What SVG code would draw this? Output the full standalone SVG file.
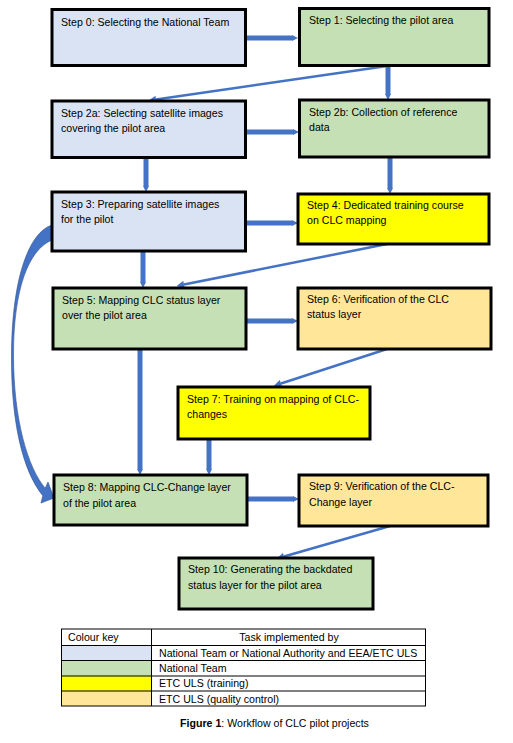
<svg xmlns="http://www.w3.org/2000/svg" width="513" height="743" viewBox="0 0 513 743">
<style>
.box{stroke:#000;stroke-width:3}
.blue{fill:#DAE3F3}.green{fill:#C5E0B4}.yellow{fill:#FFFF00}.orange{fill:#FFE699}
text{font-family:"Liberation Sans",Arial,sans-serif;font-size:10.6px;fill:#000}
.thick{stroke:#4472C4;stroke-width:5;fill:none}
.thin{stroke:#4472C4;stroke-width:2.5;fill:none}
.cell{fill:none;stroke:#000;stroke-width:1}
</style>
<defs>
<marker id="ah" viewBox="0 0 10 10" refX="0" refY="5" markerWidth="1.2" markerHeight="2" orient="auto" markerUnits="strokeWidth"><path d="M0,0 L10,5 L0,10 z" fill="#4472C4"/></marker>
<marker id="ah2" viewBox="0 0 10 10" refX="0" refY="5" markerWidth="3.6" markerHeight="3" orient="auto" markerUnits="strokeWidth"><path d="M0,0 L10,5 L0,10 z" fill="#4472C4"/></marker>
</defs>
<rect width="513" height="743" fill="#fff"/>
<g id="connectors">
<line class="thick" x1="245" y1="38" x2="292" y2="38" marker-end="url(#ah)"/>
<line class="thin" x1="387" y1="66" x2="156" y2="99.5" marker-end="url(#ah2)"/>
<line class="thick" x1="388" y1="66" x2="388" y2="94" marker-end="url(#ah)"/>
<line class="thick" x1="245" y1="132" x2="293" y2="132" marker-end="url(#ah)"/>
<line class="thick" x1="146" y1="157" x2="146" y2="186" marker-end="url(#ah)"/>
<line class="thick" x1="390" y1="157" x2="390" y2="188" marker-end="url(#ah)"/>
<line class="thick" x1="245" y1="223" x2="292" y2="223" marker-end="url(#ah)"/>
<line class="thin" x1="387" y1="244" x2="184" y2="284.5" marker-end="url(#ah2)"/>
<line class="thick" x1="143" y1="251" x2="143" y2="282" marker-end="url(#ah)"/>
<line class="thick" x1="246" y1="321" x2="292" y2="321" marker-end="url(#ah)"/>
<line class="thin" x1="387" y1="349" x2="281" y2="383.5" marker-end="url(#ah2)"/>
<line class="thick" x1="140" y1="349" x2="140" y2="469" marker-end="url(#ah)"/>
<line class="thick" x1="209" y1="439" x2="209" y2="469" marker-end="url(#ah)"/>
<line class="thick" x1="247" y1="499" x2="293" y2="499" marker-end="url(#ah)"/>
<line class="thin" x1="390" y1="526" x2="284" y2="556.5" marker-end="url(#ah2)"/>
<path d="M52,225 C30,232 12,275 11.5,355 C11,420 22,470 42.8,495.8 L41,503 L54,498 L48,482 L45.2,488.2 C28,468 13.5,420 13.5,355 C13.5,290 28,250 52,240 Z" fill="#4472C4" stroke="#2F528F" stroke-width="0.6"/>
</g>
<g id="step0"><rect class="box blue" x="52" y="9.5" width="193.5" height="56"/><text x="61" y="26">Step 0: Selecting the National Team</text></g>
<g id="step1"><rect class="box green" x="299.5" y="8.5" width="189.5" height="57"/><text x="309" y="24">Step 1: Selecting the pilot area</text></g>
<g id="step2a"><rect class="box blue" x="52" y="101" width="193.5" height="56.5"/><text x="61" y="117">Step 2a: Selecting satellite images</text><text x="61" y="132">covering the pilot area</text></g>
<g id="step2b"><rect class="box green" x="299.5" y="100" width="189.5" height="57"/><text x="309" y="116">Step 2b: Collection of reference</text><text x="309" y="131">data</text></g>
<g id="step3"><rect class="box blue" x="52" y="192" width="193.5" height="59"/><text x="61" y="208">Step 3: Preparing satellite images</text><text x="61" y="223">for the pilot</text></g>
<g id="step4"><rect class="box yellow" x="298" y="194" width="191" height="50"/><text x="307" y="209">Step 4: Dedicated training course</text><text x="307" y="224">on CLC mapping</text></g>
<g id="step5"><rect class="box green" x="53" y="288" width="193" height="61"/><text x="62" y="304">Step 5: Mapping CLC status layer</text><text x="62" y="319">over the pilot area</text></g>
<g id="step6"><rect class="box orange" x="298" y="288" width="193" height="61"/><text x="307" y="303">Step 6: Verification of the CLC</text><text x="307" y="318">status layer</text></g>
<g id="step7"><rect class="box yellow" x="178" y="387" width="192" height="52"/><text x="187" y="403">Step 7: Training on mapping of CLC-</text><text x="187" y="418">changes</text></g>
<g id="step8"><rect class="box green" x="54" y="475" width="193" height="50"/><text x="63" y="491">Step 8: Mapping CLC-Change layer</text><text x="63" y="507">of the pilot area</text></g>
<g id="step9"><rect class="box orange" x="299" y="475" width="189" height="51"/><text x="309" y="490">Step 9: Verification of the CLC-</text><text x="309" y="506">Change layer</text></g>
<g id="step10"><rect class="box green" x="179" y="558" width="194" height="51"/><text x="188" y="573">Step 10: Generating the backdated</text><text x="188" y="589">status layer for the pilot area</text></g>
<g id="legend">
<rect x="61.5" y="645.5" width="90" height="15" fill="#DAE3F3"/>
<rect x="61.5" y="660.5" width="90" height="15.5" fill="#C5E0B4"/>
<rect x="61.5" y="676" width="90" height="15" fill="#FFFF00"/>
<rect x="61.5" y="691" width="90" height="15" fill="#FFE699"/>
<rect class="cell" x="61.5" y="629" width="364" height="77"/>
<line class="cell" x1="151.5" y1="629" x2="151.5" y2="706"/>
<line class="cell" x1="61.5" y1="645.5" x2="425.5" y2="645.5"/>
<line class="cell" x1="61.5" y1="660.5" x2="425.5" y2="660.5"/>
<line class="cell" x1="61.5" y1="676" x2="425.5" y2="676"/>
<line class="cell" x1="61.5" y1="691" x2="425.5" y2="691"/>
<text x="68" y="641">Colour key</text>
<text x="289" y="641" text-anchor="middle">Task implemented by</text>
<text x="159" y="657">National Team or National Authority and EEA/ETC ULS</text>
<text x="159" y="672">National Team</text>
<text x="159" y="687">ETC ULS (training)</text>
<text x="159" y="703">ETC ULS (quality control)</text>
</g>
<text x="274.5" y="727" text-anchor="middle"><tspan font-weight="bold">Figure 1</tspan>: Workflow of CLC pilot projects</text>
</svg>
